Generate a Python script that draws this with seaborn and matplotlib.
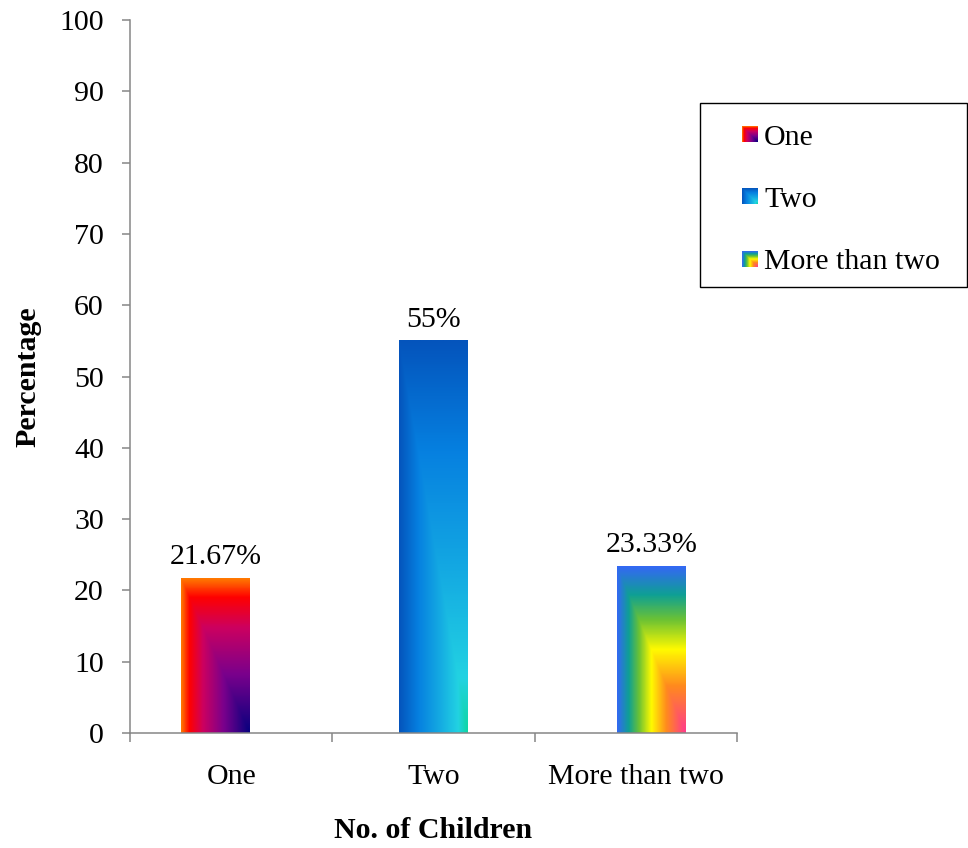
import numpy as np
import pandas as pd
import matplotlib
matplotlib.use("Agg")
import matplotlib.pyplot as plt
import seaborn as sns
from matplotlib.colors import LinearSegmentedColormap
from matplotlib.patches import Patch, Rectangle
from matplotlib.legend_handler import HandlerBase
from matplotlib.image import BboxImage
from matplotlib.transforms import Bbox, TransformedBbox

# ---- data ----
categories = ["One", "Two", "More than two"]
percentages = [21.67, 55, 23.33]
value_labels = [f"{v:g}%" for v in percentages]
y_ticks = list(range(0, 101, 10))

# ---- corner-gradient fills (t = 0 at the bottom-right corner, 1 at top/left edges) ----
fill_stops = {
    "One": [(0.0, "#06007e"), (0.38, "#7a008c"), (0.68, "#cc0060"),
            (0.88, "#ff0000"), (1.0, "#ff7a00")],
    "Two": [(0.0, "#0ed6a2"), (0.14, "#22d2e2"), (0.45, "#12a4e2"),
            (0.72, "#0680e0"), (1.0, "#0454bc")],
    "More than two": [(0.0, "#ff3a8e"), (0.28, "#ff8a1e"), (0.5, "#fffa00"),
                      (0.68, "#6cc234"), (0.83, "#0ea094"), (1.0, "#3468f4")],
}
cmaps = {k: LinearSegmentedColormap.from_list(k, v) for k, v in fill_stops.items()}


def corner_gradient(cmap, n=240):
    xn = np.linspace(0, 1, n)
    yn = np.linspace(0, 1, n)
    X, Y = np.meshgrid(xn, yn)
    t = np.maximum(1 - X, Y)
    return cmap(t)


class GradientHandler(HandlerBase):
    def __init__(self, cmap):
        super().__init__()
        self.cmap = cmap

    def create_artists(self, legend, orig_handle, xdescent, ydescent,
                       width, height, fontsize, trans):
        side = min(width, height)
        bb = Bbox.from_bounds(-xdescent, -ydescent + (height - side) / 2, side, side)
        img = BboxImage(TransformedBbox(bb, trans), interpolation="bilinear", origin="lower")
        img.set_data(corner_gradient(self.cmap, 60))
        return [img]


sns.set_style("ticks")
plt.rcParams["font.family"] = ["Liberation Serif", "DejaVu Serif"]
plt.rcParams["text.color"] = "black"
plt.rcParams["axes.labelcolor"] = "black"
plt.rcParams["xtick.labelcolor"] = "black"
plt.rcParams["ytick.labelcolor"] = "black"
FS = 21.5
axis_grey = "#868686"

fig = plt.figure(figsize=(9.68, 8.48), dpi=100)
ax = fig.add_axes([130 / 968, 1 - 733 / 848, 607 / 968, 713 / 848])

df = pd.DataFrame({"Children": categories, "Percentage": percentages})
sns.barplot(data=df, x="Children", y="Percentage", hue="Children",
            dodge=False, width=0.34, legend=False, ax=ax,
            palette=["none"] * 3, edgecolor="none", linewidth=0)

# series slots sit slightly apart within each category group
slot_shift = [-0.077, 0.0, 0.079]
bars = list(ax.patches)
bars.sort(key=lambda p: p.get_x())
for bar, shift, cat in zip(bars, slot_shift, categories):
    bar.set_x(bar.get_x() + shift)
    x0, w, h = bar.get_x(), bar.get_width(), bar.get_height()
    ax.imshow(corner_gradient(cmaps[cat]), extent=[x0, x0 + w, 0, h],
              origin="lower", aspect="auto", interpolation="bilinear", zorder=2)
    ax.annotate(value_labels[categories.index(cat)], (x0 + w / 2, h),
                xytext=(0, 6), textcoords="offset points",
                ha="center", va="bottom", fontsize=FS, color="black")

ax.set_xlim(-0.5, 2.5)
ax.set_ylim(0, 100)
ax.set_yticks(y_ticks)
ax.set_yticklabels([str(v) for v in y_ticks])

# category boundaries carry the tick marks, centres carry the labels
ax.set_xticks([-0.5, 0.5, 1.5, 2.5])
ax.set_xticklabels([])
ax.set_xticks([0, 1, 2], minor=True)
ax.set_xticklabels(categories, minor=True)
ax.tick_params(axis="x", which="major", length=6.5, width=1.1, color=axis_grey, direction="out")
ax.tick_params(axis="x", which="minor", length=0, pad=22, labelsize=FS, labelcolor="black")
ax.tick_params(axis="y", length=5.8, width=1.1, color=axis_grey, direction="out",
               pad=13, labelsize=FS, labelcolor="black")

sns.despine(ax=ax)
for side in ("left", "bottom"):
    ax.spines[side].set_color(axis_grey)
    ax.spines[side].set_linewidth(1.1)

ax.set_xlabel("No. of Children", fontsize=FS, fontweight="bold", color="black")
ax.set_ylabel("Percentage", fontsize=FS, fontweight="bold", color="black")
ax.xaxis.set_label_coords(0.5, (733 - 830) / 713)
ax.xaxis.label.set_va("center")
ax.yaxis.set_label_coords((28 - 130) / 607, 0.5)
ax.yaxis.label.set_va("center")

# legend with gradient swatches inside a plain rectangular frame
handles = [Patch(label=c) for c in categories]
hmap = {h: GradientHandler(cmaps[c]) for h, c in zip(handles, categories)}
fig.legend(handles=handles, labels=categories, handler_map=hmap,
           loc="center left", bbox_to_anchor=(742 / 968, 1 - 200 / 848),
           frameon=False, fontsize=FS, borderpad=0, borderaxespad=0,
           handlelength=0.52, handleheight=0.52, handletextpad=0.22,
           labelspacing=1.22, labelcolor="black")
fig.add_artist(Rectangle((700 / 968, 1 - 287 / 848), 267 / 968, 184 / 848,
                         transform=fig.transFigure, fill=False,
                         edgecolor="black", linewidth=1.0))

fig.savefig("out.png", dpi=100)
